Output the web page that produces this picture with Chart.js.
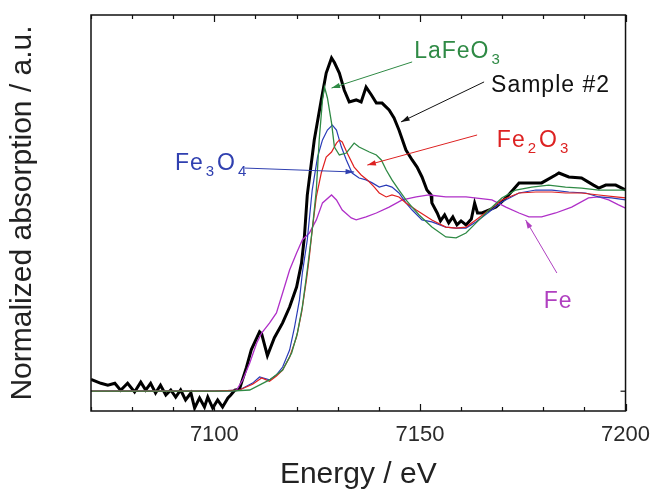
<!DOCTYPE html>
<html>
<head>
<meta charset="utf-8">
<script src="https://cdn.jsdelivr.net/npm/chart.js@4/dist/chart.umd.min.js"></script>
<style>
  html, body { margin: 0; padding: 0; background: #fff; }
  canvas { display: block; }
</style>
</head>
<body>
<canvas id="myChart" width="653" height="491"></canvas>
<script>
// x tick labels (eV)
const tickLabels = [7100, 7150, 7200];

// Sample #2 (black, noisy)
const sampleE = [7070.0, 7072.4, 7074.1, 7075.8, 7077.2, 7078.9, 7080.6, 7082.1, 7083.3, 7084.5, 7085.7, 7086.9, 7088.2, 7089.4, 7090.6, 7091.8, 7093.0, 7094.3, 7095.2, 7096.4, 7097.6, 7098.4, 7099.6, 7100.8, 7102.0, 7103.3, 7104.0, 7105.0, 7106.1, 7107.8, 7109.0, 7111.0, 7111.5, 7112.9, 7114.6, 7116.6, 7118.3, 7120.0, 7121.2, 7121.9, 7122.6, 7124.3, 7126.0, 7127.2, 7128.5, 7129.2, 7130.4, 7131.6, 7132.8, 7134.5, 7135.7, 7136.9, 7138.2, 7139.4, 7140.8, 7142.5, 7143.7, 7144.9, 7146.6, 7148.1, 7149.3, 7150.5, 7151.7, 7152.7, 7152.9, 7154.2, 7155.0, 7156.0, 7157.0, 7158.0, 7159.0, 7160.0, 7161.2, 7162.5, 7163.3, 7164.0, 7165.1, 7168.5, 7170.9, 7174.1, 7177.2, 7179.6, 7183.0, 7183.8, 7186.2, 7189.3, 7192.2, 7193.5, 7195.2, 7197.6, 7200.0];
const sampleY = [0.06, 0.04, 0.03, 0.04, 0.005, 0.04, -0.004, 0.046, 0.006, 0.04, -0.009, 0.03, -0.019, 0.006, -0.03, 0.006, -0.044, -0.009, -0.085, -0.034, -0.08, -0.03, -0.085, -0.044, -0.08, -0.034, -0.019, 0.006, 0.01, 0.12, 0.21, 0.30, 0.29, 0.18, 0.27, 0.345, 0.425, 0.526, 0.647, 0.78, 0.99, 1.269, 1.471, 1.607, 1.683, 1.66, 1.607, 1.52, 1.461, 1.471, 1.461, 1.536, 1.496, 1.455, 1.455, 1.42, 1.38, 1.319, 1.218, 1.168, 1.132, 1.082, 1.016, 0.991, 0.951, 0.90, 0.86, 0.89, 0.85, 0.88, 0.84, 0.86, 0.84, 0.87, 0.95, 0.90, 0.90, 0.93, 0.976, 1.052, 1.052, 1.052, 1.092, 1.102, 1.082, 1.077, 1.041, 1.026, 1.041, 1.041, 1.016];

// LaFeO3 (green)
const lafeoE = [7070, 7100, 7104, 7108.6, 7113.4, 7116.6, 7118.8, 7120.2, 7121.4, 7122.6, 7123.8, 7124.8, 7125.5, 7126.3, 7126.8, 7127.5, 7128.5, 7129.2, 7130.4, 7132.1, 7134.0, 7135.2, 7137.7, 7139.4, 7140.6, 7141.8, 7143.2, 7144.9, 7146.6, 7148.1, 7149.8, 7152.9, 7156.3, 7158.8, 7161.2, 7163.6, 7166.8, 7169.9, 7173.3, 7177.2, 7181.3, 7185.4, 7189.3, 7193.5, 7197.6, 7200];
const lafeoY = [0.0, 0.0, 0.0, 0.006, 0.057, 0.107, 0.193, 0.294, 0.426, 0.612, 0.814, 1.016, 1.269, 1.471, 1.536, 1.481, 1.355, 1.233, 1.193, 1.203, 1.253, 1.233, 1.208, 1.193, 1.168, 1.117, 1.067, 1.016, 0.966, 0.93, 0.89, 0.829, 0.779, 0.774, 0.799, 0.849, 0.915, 0.976, 1.016, 1.031, 1.041, 1.031, 1.026, 1.016, 1.016, 1.016];

// Fe3O4 (blue)
const fe3o4E = [7070, 7100, 7106.1, 7109.3, 7111.0, 7113.4, 7115.1, 7116.6, 7118.3, 7119.5, 7120.7, 7121.4, 7122.6, 7123.8, 7125.1, 7126.3, 7127.5, 7128.7, 7129.7, 7130.9, 7132.1, 7133.5, 7135.2, 7136.9, 7138.4, 7140.1, 7141.8, 7143.2, 7144.9, 7146.6, 7148.1, 7150.5, 7152.9, 7156.3, 7158.8, 7161.2, 7163.6, 7166.8, 7169.9, 7174.1, 7178.2, 7182.1, 7186.2, 7190.3, 7193.5, 7196.6, 7200];
const fe3o4Y = [0.0, 0.0, 0.006, 0.041, 0.072, 0.057, 0.082, 0.122, 0.208, 0.324, 0.461, 0.597, 0.764, 1.016, 1.183, 1.269, 1.319, 1.344, 1.319, 1.233, 1.168, 1.102, 1.077, 1.067, 1.052, 1.031, 1.041, 1.031, 1.001, 0.951, 0.915, 0.865, 0.855, 0.829, 0.824, 0.824, 0.855, 0.905, 0.956, 1.001, 1.016, 1.016, 1.006, 1.001, 0.981, 0.976, 0.966];

// Fe2O3 (red)
const fe2o3E = [7070, 7100, 7106.1, 7109.3, 7111.5, 7113.4, 7115.1, 7116.6, 7118.3, 7120.0, 7121.2, 7122.4, 7123.1, 7123.8, 7124.8, 7126.0, 7127.2, 7128.5, 7129.7, 7130.4, 7131.1, 7132.3, 7134.0, 7135.7, 7137.2, 7138.9, 7140.1, 7141.8, 7143.2, 7144.9, 7146.6, 7149.1, 7152.9, 7156.3, 7158.8, 7161.2, 7163.6, 7166.8, 7169.9, 7174.1, 7178.2, 7182.1, 7185.4, 7189.3, 7193.5, 7197.6, 7200];
const fe2o3Y = [0.0, 0.0, 0.006, 0.035, 0.067, 0.05, 0.077, 0.107, 0.172, 0.274, 0.395, 0.562, 0.678, 0.814, 0.981, 1.102, 1.183, 1.208, 1.253, 1.269, 1.259, 1.203, 1.132, 1.092, 1.067, 1.031, 1.001, 0.981, 0.991, 0.981, 0.951, 0.915, 0.865, 0.829, 0.824, 0.829, 0.865, 0.915, 0.966, 1.001, 1.006, 1.006, 1.001, 1.001, 0.991, 0.981, 0.976];

// Fe foil (magenta)
const feE = [7070, 7100, 7104, 7105.4, 7106.9, 7108.6, 7110.3, 7111.5, 7113.4, 7115.1, 7116.6, 7118.3, 7120.0, 7121.4, 7123.1, 7124.8, 7126.3, 7128.5, 7129.7, 7131.1, 7133.3, 7134.5, 7136.9, 7139.4, 7142.5, 7145.7, 7149.1, 7152.2, 7156.3, 7161.2, 7167.5, 7170.9, 7174.1, 7176.5, 7179.6, 7183.0, 7186.9, 7191.0, 7193.5, 7195.9, 7198.3, 7200];
const feY = [0.0, 0.0, 0.0, 0.006, 0.057, 0.142, 0.243, 0.294, 0.344, 0.395, 0.496, 0.612, 0.698, 0.764, 0.799, 0.865, 0.951, 0.991, 0.966, 0.915, 0.875, 0.865, 0.880, 0.900, 0.930, 0.966, 0.981, 0.991, 0.981, 0.981, 0.966, 0.930, 0.900, 0.880, 0.880, 0.900, 0.930, 0.976, 0.981, 0.966, 0.941, 0.925];

const toPoints = (xs, ys) => xs.map((x, i) => ({ x: x, y: ys[i] }));

// labels with arrows, in data coordinates
const notes = [
  { parts: [['LaFeO', 0], ['3', 1]], at: [7148.6, 1.683], from: [7148.1, 1.663], to: [7128.5, 1.531], color: '#2f8a45' },
  { parts: [['Sample #2', 0]], at: [7167.3, 1.511], from: [7165.6, 1.562], to: [7145.4, 1.360], color: '#111' },
  { parts: [['Fe', 0], ['2', 1], ['O', 0], ['3', 1]], at: [7168.7, 1.233], from: [7163.9, 1.294], to: [7137.2, 1.142], color: '#dd2222' },
  { parts: [['Fe', 0], ['3', 1], ['O', 0], ['4', 1]], at: [7090.4, 1.117], from: [7107.4, 1.127], to: [7134.0, 1.107], color: '#3040b0' },
  { parts: [['Fe', 0]], at: [7180.1, 0.421], from: [7183.3, 0.597], to: [7175.7, 0.865], color: '#b040c0' }
];

const framePlugin = {
  id: 'frame',
  afterDatasetsDraw(chart) {
    const ctx = chart.ctx;
    const a = chart.chartArea;
    const xs = chart.scales.x;
    const ys = chart.scales.y;
    ctx.save();
    ctx.strokeStyle = '#111';
    ctx.lineWidth = 1.5;
    ctx.strokeRect(a.left, a.top, a.right - a.left, a.bottom - a.top);
    // inward ticks, top and bottom
    ctx.lineWidth = 1.2;
    for (let v = 7070; v <= 7200; v += 10) {
      const px = Math.round(xs.getPixelForValue(v)) + 0.5;
      const len = v % 50 === 0 ? 7 : 4;
      ctx.beginPath();
      ctx.moveTo(px, a.bottom); ctx.lineTo(px, a.bottom - len);
      ctx.moveTo(px, a.top); ctx.lineTo(px, a.top + len);
      ctx.stroke();
    }
    // right tick at zero
    const py = ys.getPixelForValue(0);
    ctx.beginPath();
    ctx.moveTo(a.right, py); ctx.lineTo(a.right - 5, py);
    ctx.stroke();

    // annotations
    notes.forEach(n => {
      const fx = xs.getPixelForValue(n.from[0]), fy = ys.getPixelForValue(n.from[1]);
      const tx = xs.getPixelForValue(n.to[0]), ty = ys.getPixelForValue(n.to[1]);
      ctx.strokeStyle = n.color;
      ctx.fillStyle = n.color;
      ctx.lineWidth = 1;
      ctx.beginPath();
      ctx.moveTo(fx, fy); ctx.lineTo(tx, ty);
      ctx.stroke();
      const ang = Math.atan2(ty - fy, tx - fx);
      ctx.beginPath();
      ctx.moveTo(tx, ty);
      ctx.lineTo(tx - 9 * Math.cos(ang - 0.3), ty - 9 * Math.sin(ang - 0.3));
      ctx.lineTo(tx - 9 * Math.cos(ang + 0.3), ty - 9 * Math.sin(ang + 0.3));
      ctx.closePath();
      ctx.fill();

      let x = xs.getPixelForValue(n.at[0]);
      const y = ys.getPixelForValue(n.at[1]);
      ctx.textBaseline = 'alphabetic';
      ctx.textAlign = 'left';
      n.parts.forEach(p => {
        if (p[1]) {
          ctx.font = '15px "Liberation Sans", Arial, sans-serif';
          ctx.letterSpacing = '0px';
          ctx.fillText(p[0], x + 1, y + 6);
          x += ctx.measureText(p[0]).width + 4;
        } else {
          ctx.font = '23px "Liberation Sans", Arial, sans-serif';
          ctx.letterSpacing = '1px';
          ctx.fillText(p[0], x, y);
          x += ctx.measureText(p[0]).width + 1;
        }
      });
    });
    ctx.restore();
  }
};

const line = (data, color, width) => ({
  data: data,
  borderColor: color,
  borderWidth: width,
  pointRadius: 0,
  tension: 0,
  fill: false
});

new Chart(document.getElementById('myChart').getContext('2d'), {
  type: 'line',
  data: {
    datasets: [
      line(toPoints(lafeoE, lafeoY), '#2f8a45', 1.3),
      line(toPoints(fe2o3E, fe2o3Y), '#e02020', 1.2),
      line(toPoints(fe3o4E, fe3o4Y), '#2a3cb8', 1.2),
      line(toPoints(feE, feY), '#b030c8', 1.3),
      line(toPoints(sampleE, sampleY), '#000000', 3)
    ]
  },
  options: {
    responsive: false,
    animation: false,
    devicePixelRatio: 1,
    layout: { padding: { left: 0, right: 26, top: 15, bottom: 0 } },
    plugins: { legend: { display: false }, tooltip: { enabled: false } },
    scales: {
      x: {
        type: 'linear',
        min: 7070,
        max: 7200,
        grid: { display: false },
        border: { display: false },
        afterFit: s => { s.height = 80; },
        afterBuildTicks: s => { s.ticks = tickLabels.map(v => ({ value: v })); },
        ticks: {
          autoSkip: false,
          maxRotation: 0,
          padding: 3,
          color: '#2a2a2a',
          font: { family: '"Liberation Sans", Arial, sans-serif', size: 22 },
          callback: v => String(v)
        },
        title: {
          display: true,
          text: 'Energy / eV',
          color: '#222',
          padding: { top: 0, bottom: 1 },
          font: { family: '"Liberation Sans", Arial, sans-serif', size: 30, lineHeight: 1 }
        }
      },
      y: {
        min: -0.1,
        max: 1.9,
        grid: { display: false },
        border: { display: false },
        ticks: { display: false },
        afterFit: s => { s.width = 91; },
        title: {
          display: true,
          text: 'Normalized absorption / a.u.',
          color: '#222',
          padding: { top: 8, bottom: 0 },
          font: { family: '"Liberation Sans", Arial, sans-serif', size: 30, lineHeight: 1 }
        }
      }
    }
  },
  plugins: [framePlugin]
});
</script>
</body>
</html>
